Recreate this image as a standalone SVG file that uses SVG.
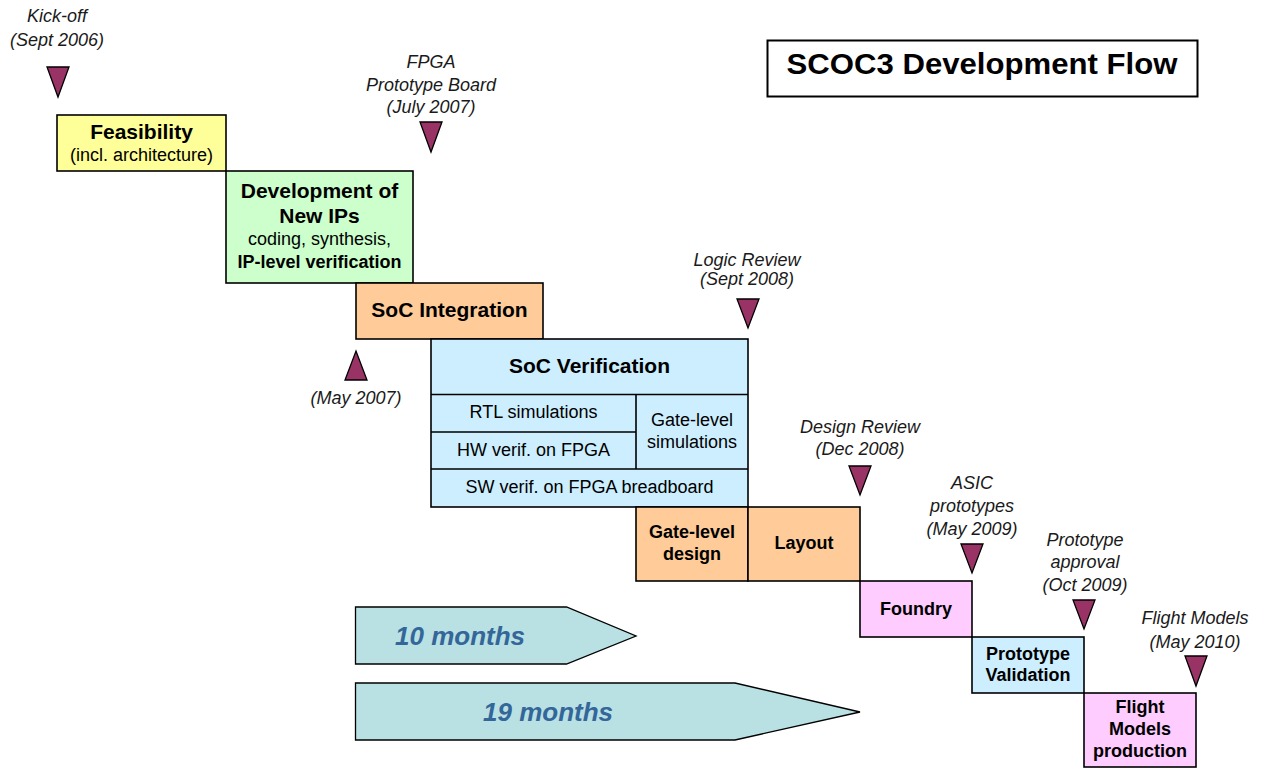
<svg xmlns="http://www.w3.org/2000/svg" width="1261" height="768" viewBox="0 0 1261 768">
<style>
.box{stroke:#000;stroke-width:1.6}
.ln{stroke:#000;stroke-width:1.6;fill:none}
.tri{fill:#993366;stroke:#000;stroke-width:1.3;stroke-linejoin:miter}
.t{font-family:"Liberation Sans",Arial,sans-serif;fill:#000;text-anchor:middle}
.b{font-weight:bold}
.h{font-size:21px;font-weight:bold}
.s{font-size:18px}
.sb{font-size:18px;font-weight:bold}
.it{font-family:"Liberation Sans",Arial,sans-serif;font-style:italic;font-size:18px;fill:#1a1a1a;text-anchor:middle}
.arr{fill:#b9e0e3;stroke:#000;stroke-width:1.3}
.mo{font-family:"Liberation Sans",Arial,sans-serif;font-style:italic;font-weight:bold;font-size:26px;fill:#336699}
</style>
<rect width="1261" height="768" fill="#fff"/>

<g id="title">
<rect x="767.5" y="40.5" width="430" height="56" fill="#fff" stroke="#000" stroke-width="2"/>
<text class="t b" x="982" y="74" font-size="29" textLength="391" lengthAdjust="spacingAndGlyphs">SCOC3 Development Flow</text>
</g>

<g id="feasibility">
<rect class="box" x="57" y="115" width="169" height="56" fill="#ffff99"/>
<text class="t h" x="141.5" y="139">Feasibility</text>
<text class="t s" x="141.5" y="161">(incl. architecture)</text>
</g>

<g id="dev-ips">
<rect class="box" x="226" y="171" width="187" height="112" fill="#ccffcc"/>
<text class="t h" x="319.5" y="198">Development of</text>
<text class="t h" x="319.5" y="223">New IPs</text>
<text class="t s" x="319.5" y="245">coding, synthesis,</text>
<text class="t sb" x="319.5" y="268">IP-level verification</text>
</g>

<g id="soc-integration">
<rect class="box" x="356" y="283" width="187" height="56" fill="#ffcc99"/>
<text class="t h" x="449.5" y="317">SoC Integration</text>
</g>

<g id="soc-verification">
<rect class="box" x="431" y="339" width="317" height="168" fill="#cceeff"/>
<path class="ln" d="M431 394.5H748M431 432H636M431 469H748M636 394.5V469"/>
<text class="t h" x="589.5" y="373">SoC Verification</text>
<text class="t s" x="533.5" y="418">RTL simulations</text>
<text class="t s" x="533.5" y="456">HW verif. on FPGA</text>
<text class="t s" x="692" y="426">Gate-level</text>
<text class="t s" x="692" y="448">simulations</text>
<text class="t s" x="589.5" y="493">SW verif. on FPGA breadboard</text>
</g>

<g id="gate-level-design">
<rect class="box" x="636" y="507" width="112" height="74" fill="#ffcc99"/>
<text class="t sb" x="692" y="538">Gate-level</text>
<text class="t sb" x="692" y="560">design</text>
</g>

<g id="layout">
<rect class="box" x="748" y="507" width="112" height="74" fill="#ffcc99"/>
<text class="t sb" x="804" y="549">Layout</text>
</g>

<g id="foundry">
<rect class="box" x="860" y="581" width="112" height="56" fill="#ffccff"/>
<text class="t sb" x="916" y="615">Foundry</text>
</g>

<g id="prototype-validation">
<rect class="box" x="972" y="637" width="112" height="56" fill="#cceeff"/>
<text class="t sb" x="1028" y="660">Prototype</text>
<text class="t sb" x="1028" y="681">Validation</text>
</g>

<g id="flight-models">
<rect class="box" x="1084" y="693" width="112" height="74" fill="#ffccff"/>
<text class="t sb" x="1140" y="713">Flight</text>
<text class="t sb" x="1140" y="735">Models</text>
<text class="t sb" x="1140" y="757">production</text>
</g>

<g id="m-kickoff">
<polygon class="tri" points="47,67 69,67 58,97"/>
<text class="it" x="57" y="22">Kick-off</text>
<text class="it" x="57" y="46">(Sept 2006)</text>
</g>

<g id="m-fpga">
<polygon class="tri" points="420,122 442,122 431,152"/>
<text class="it" x="431" y="68">FPGA</text>
<text class="it" x="431" y="91">Prototype Board</text>
<text class="it" x="431" y="113">(July 2007)</text>
</g>

<g id="m-may2007">
<polygon class="tri" points="345,380 367,380 356,351"/>
<text class="it" x="356" y="404">(May 2007)</text>
</g>

<g id="m-logic-review">
<polygon class="tri" points="737,299 759,299 748,328"/>
<text class="it" x="747" y="266">Logic Review</text>
<text class="it" x="747" y="285">(Sept 2008)</text>
</g>

<g id="m-design-review">
<polygon class="tri" points="849,466 871,466 860,495"/>
<text class="it" x="860" y="433">Design Review</text>
<text class="it" x="860" y="455">(Dec 2008)</text>
</g>

<g id="m-asic">
<polygon class="tri" points="961,544 983,544 972,573"/>
<text class="it" x="972" y="489">ASIC</text>
<text class="it" x="972" y="512">prototypes</text>
<text class="it" x="972" y="535">(May 2009)</text>
</g>

<g id="m-proto-approval">
<polygon class="tri" points="1073,600 1095,600 1084,629"/>
<text class="it" x="1085" y="546">Prototype</text>
<text class="it" x="1085" y="568">approval</text>
<text class="it" x="1085" y="591">(Oct 2009)</text>
</g>

<g id="m-flight">
<polygon class="tri" points="1185,656 1207,656 1196,686"/>
<text class="it" x="1195" y="624">Flight Models</text>
<text class="it" x="1195" y="648">(May 2010)</text>
</g>

<g id="arrow-10">
<polygon class="arr" points="355.5,607 566.5,607 636,636 566.5,664 355.5,664"/>
<text class="mo" x="395" y="645">10 months</text>
</g>

<g id="arrow-19">
<polygon class="arr" points="355.5,683 735,683 860,712 735,740 355.5,740"/>
<text class="mo" x="483" y="721">19 months</text>
</g>

<g id="connectors"/>
</svg>
